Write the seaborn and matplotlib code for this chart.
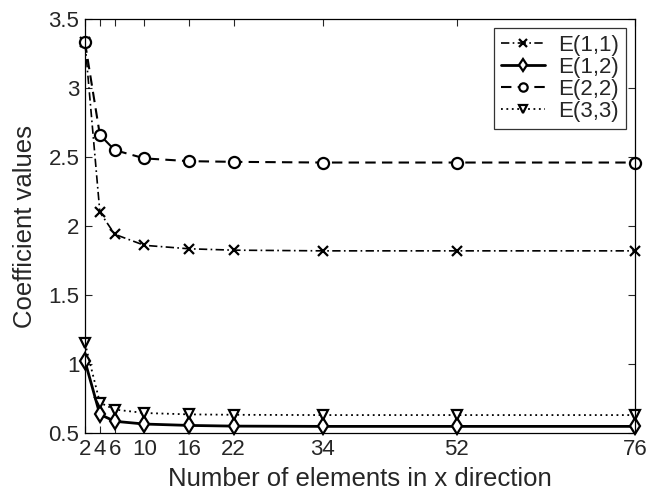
import pandas as pd
import numpy as np
import matplotlib
matplotlib.use("Agg")
import matplotlib.pyplot as plt
import seaborn as sns

elements = [2, 4, 6, 10, 16, 22, 34, 52, 76]
e11 = [3.33, 2.10, 1.94, 1.86, 1.835, 1.825, 1.82, 1.82, 1.82]
e12 = [1.02, 0.635, 0.585, 0.565, 0.555, 0.55, 0.548, 0.548, 0.548]
e22 = [3.33, 2.66, 2.55, 2.49, 2.47, 2.465, 2.46, 2.46, 2.46]
e33 = [1.15, 0.72, 0.67, 0.645, 0.635, 0.632, 0.63, 0.63, 0.63]
labels = ["E(1,1)", "E(1,2)", "E(2,2)", "E(3,3)"]
yticks = [0.5, 1, 1.5, 2, 2.5, 3, 3.5]
ytick_labels = ["0.5", "1", "1.5", "2", "2.5", "3", "3.5"]

sns.set_style("ticks")
plt.rcParams['font.family'] = ['Liberation Sans', 'DejaVu Sans']

df = pd.DataFrame({"x": elements * 4,
                   "y": e11 + e12 + e22 + e33,
                   "series": np.repeat(labels, len(elements))})

fig = plt.figure(figsize=(6.61, 4.9), dpi=100)
ax = fig.add_axes([0.1286, 0.1163, 0.8321, 0.8449])

styles = {
    "E(1,1)": dict(marker="x", dashes=(5, 2, 1, 2), lw=1.2, ms=7),
    "E(1,2)": dict(marker="d", dashes=None, lw=2.0, ms=8),
    "E(2,2)": dict(marker="o", dashes=(5, 3), lw=1.5, ms=8),
    "E(3,3)": dict(marker="v", dashes=(1, 2), lw=1.3, ms=7),
}

for name in labels:
    st = styles[name]
    sub = df[df["series"] == name]
    kw = dict(x="x", y="y", data=sub, ax=ax, color="black", label=name,
              marker=st["marker"], markersize=st["ms"], markerfacecolor="white",
              markeredgecolor="black", markeredgewidth=1.6, linewidth=st["lw"],
              clip_on=False)
    line = sns.lineplot(**kw).lines[-1]
    if st["dashes"] is not None:
        line.set_dashes(st["dashes"])

ax.set_xlim(2, 76)
ax.set_ylim(0.5, 3.5)
ax.set_xticks(elements)
ax.set_xticklabels([str(v) for v in elements])
ax.set_yticks(yticks)
ax.set_yticklabels(ytick_labels)
ax.tick_params(direction="in", top=True, right=True, labelsize=16, length=5,
               width=0.8, pad=4)
for sp in ax.spines.values():
    sp.set_linewidth(0.9)
    sp.set_color("black")
ax.set_xlabel("Number of elements in x direction", fontsize=18.5, labelpad=5)
ax.set_ylabel("Coefficient values", fontsize=18.5, labelpad=8)

leg = ax.legend(loc="upper right", fontsize=16, frameon=True, fancybox=False,
                edgecolor="black", handlelength=2.0, borderaxespad=0.4,
                labelspacing=0.05, handletextpad=0.6, borderpad=0.3,
                markerscale=0.75)
leg.get_frame().set_linewidth(0.9)

fig.savefig("out.png", dpi=100)
